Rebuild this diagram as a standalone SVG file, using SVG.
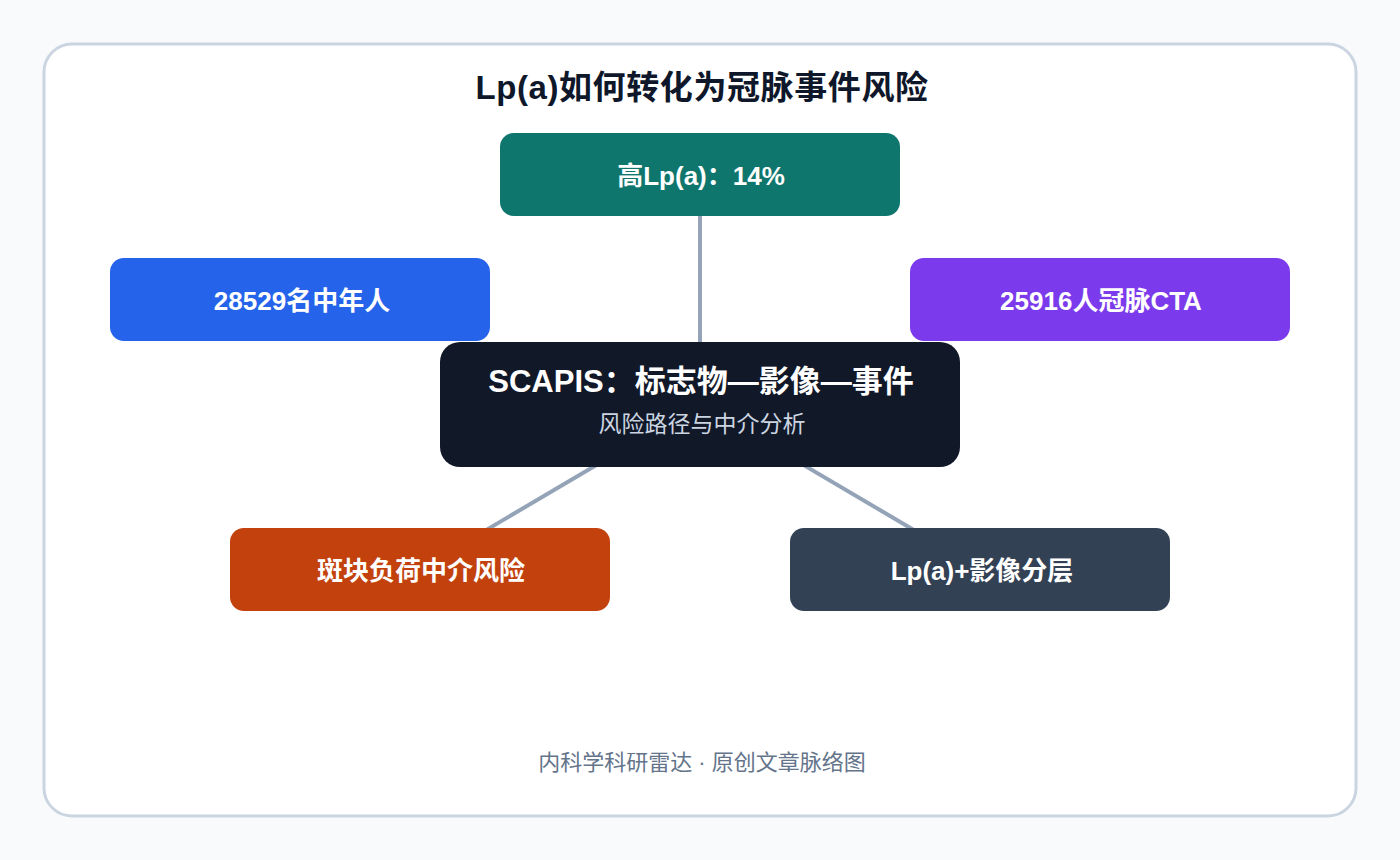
<svg xmlns="http://www.w3.org/2000/svg" width="1400" height="860" viewBox="0 0 1400 860">
<style>
.node-t{font-family:"Liberation Sans","Noto Sans CJK SC",sans-serif;font-weight:700;font-size:26px;fill:#ffffff;text-anchor:middle;dominant-baseline:central}
.title{font-family:"Liberation Sans","Noto Sans CJK SC",sans-serif;font-weight:700;font-size:33px;letter-spacing:0.6px;fill:#0f172a;text-anchor:middle;dominant-baseline:central}
.sub{font-family:"Liberation Sans","Noto Sans CJK SC",sans-serif;font-size:23px;fill:#cbd5e1;text-anchor:middle;dominant-baseline:central}
.foot{font-family:"Liberation Sans","Noto Sans CJK SC",sans-serif;font-size:22px;fill:#64748b;text-anchor:middle;dominant-baseline:central}
.conn{stroke:#94a3b8;stroke-width:4;fill:none}
</style>
<rect width="1400" height="860" fill="#f8fafc"/>
<rect x="44" y="44" width="1312" height="772" rx="28" fill="#ffffff" stroke="#cbd5e1" stroke-width="3"/>
<text class="title" x="702" y="87">Lp(a)如何转化为冠脉事件风险</text>
<g id="connectors">
<line class="conn" x1="700" y1="404" x2="700" y2="174"/>
<line class="conn" x1="700" y1="404" x2="420" y2="569"/>
<line class="conn" x1="700" y1="404" x2="980" y2="569"/>
</g>
<g id="node-top"><rect x="500" y="133" width="400" height="83" rx="14" fill="#0f766e"/><text class="node-t" x="701" y="176">高Lp(a)：14%</text></g>
<g id="node-left"><rect x="110" y="258" width="380" height="83" rx="14" fill="#2563eb"/><text class="node-t" x="302" y="301">28529名中年人</text></g>
<g id="node-right"><rect x="910" y="258" width="380" height="83" rx="14" fill="#7c3aed"/><text class="node-t" x="1101" y="301">25916人冠脉CTA</text></g>
<g id="node-center"><rect x="440" y="342" width="520" height="125" rx="20" fill="#111827"/>
<text class="node-t" x="701" y="381" style="font-size:31px">SCAPIS：标志物—影像—事件</text>
<text class="sub" x="702" y="424">风险路径与中介分析</text></g>
<g id="node-bl"><rect x="230" y="528" width="380" height="83" rx="14" fill="#c2410c"/><text class="node-t" x="421" y="571">斑块负荷中介风险</text></g>
<g id="node-br"><rect x="790" y="528" width="380" height="83" rx="14" fill="#334155"/><text class="node-t" x="982" y="571">Lp(a)+影像分层</text></g>
<text class="foot" x="702" y="762">内科学科研雷达 · 原创文章脉络图</text>
</svg>
